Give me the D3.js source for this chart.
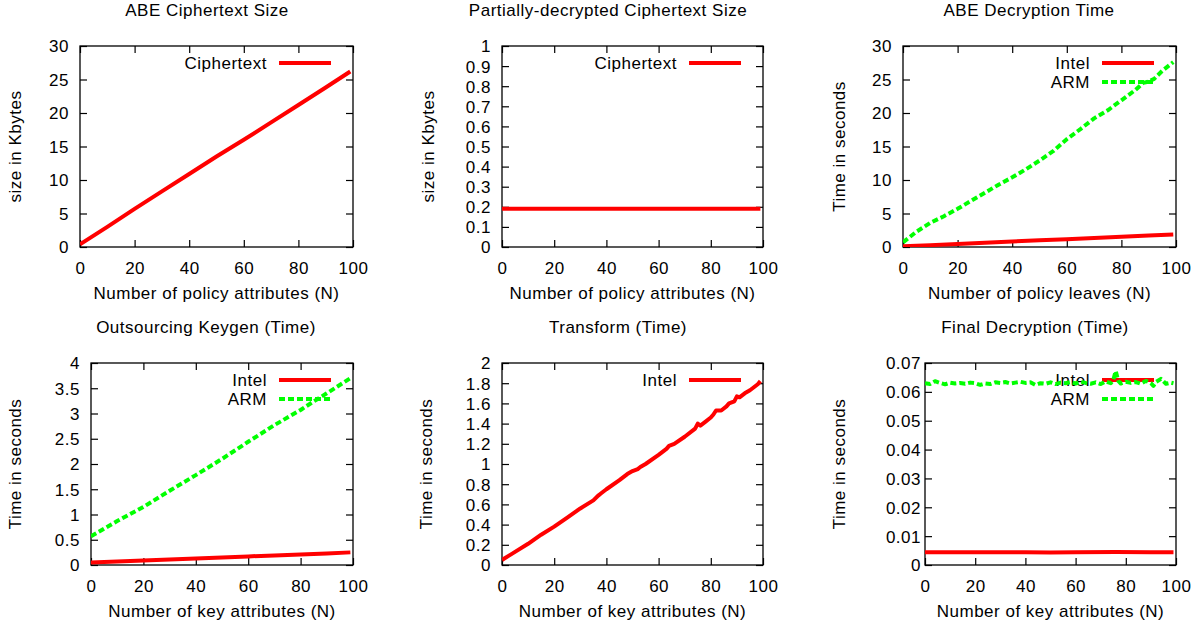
<!DOCTYPE html>
<html>
<head>
<meta charset="utf-8">
<script src="https://cdn.jsdelivr.net/npm/d3@7"></script>
<style>
  body { margin: 0; background: #fff; }
  svg { display: block; }
</style>
</head>
<body>
<div id="chart"></div>
<script>
// ---- data ----
const xTicks = [0, 20, 40, 60, 80, 100];

// ABE Ciphertext Size
const ctN = [0, 10, 20, 30, 40, 50, 60, 70, 80, 90, 99];
const ctSize = [0.4, 3.0, 5.7, 8.3, 10.9, 13.5, 16.0, 18.6, 21.2, 23.8, 26.2];
const ctTicks = [0, 5, 10, 15, 20, 25, 30];

// Partially-decrypted Ciphertext Size
const partialN = [0, 20, 40, 60, 80, 99];
const partialSize = [0.19, 0.19, 0.19, 0.19, 0.19, 0.19];
const partialTicks = [0, 0.1, 0.2, 0.3, 0.4, 0.5, 0.6, 0.7, 0.8, 0.9, 1];

// ABE Decryption Time
const decIntelN = [0, 10, 20, 30, 40, 50, 60, 70, 80, 90, 99];
const decIntel = [0.10, 0.28, 0.46, 0.64, 0.82, 1.0, 1.17, 1.35, 1.53, 1.71, 1.87];
const decArmN = [0, 5, 10, 15, 20, 25, 30, 35, 40, 45, 50, 55, 60, 65, 70, 75, 80, 85, 88, 90, 92, 95, 99];
const decArm = [0.7, 2.3, 3.6, 4.6, 5.7, 6.9, 8.1, 9.3, 10.4, 11.6, 12.9, 14.3, 16.1, 17.6, 19.2, 20.4, 21.9, 23.4, 24.5, 24.7, 25.1, 26.3, 27.6];
const decTicks = [0, 5, 10, 15, 20, 25, 30];

// Outsourcing Keygen (Time)
const keygenN = [0, 10, 20, 30, 40, 50, 60, 70, 80, 85, 90, 99];
const keygenIntel = [0.05, 0.07, 0.09, 0.11, 0.13, 0.15, 0.17, 0.19, 0.21, 0.22, 0.23, 0.25];
const keygenArm = [0.57, 0.87, 1.15, 1.47, 1.78, 2.10, 2.44, 2.77, 3.07, 3.24, 3.40, 3.70];
const keygenTicks = [0, 0.5, 1, 1.5, 2, 2.5, 3, 3.5, 4];

// Transform (Time)
const transformN = [0, 5, 10, 15, 20, 25, 30, 35, 37, 38, 40, 45, 48, 50, 52, 53, 55, 60, 63, 64, 66, 70, 74, 75, 76, 78, 80, 81, 82, 84, 86, 87, 88, 89, 90, 91, 93, 95, 97, 98, 99];
const transformIntel = [0.05, 0.13, 0.21, 0.30, 0.38, 0.47, 0.56, 0.64, 0.69, 0.71, 0.75, 0.84, 0.90, 0.93, 0.95, 0.97, 1.00, 1.09, 1.15, 1.18, 1.20, 1.27, 1.35, 1.40, 1.38, 1.42, 1.46, 1.49, 1.53, 1.53, 1.57, 1.60, 1.61, 1.62, 1.67, 1.66, 1.70, 1.73, 1.77, 1.79, 1.82];
const transformTicks = [0, 0.2, 0.4, 0.6, 0.8, 1, 1.2, 1.4, 1.6, 1.8, 2];

// Final Decryption (Time)
const finalIntelN = [0, 20, 40, 50, 60, 76, 90, 99];
const finalIntel = [0.0044, 0.0044, 0.0044, 0.0043, 0.0044, 0.0045, 0.0044, 0.0044];
const finalArmN = [0, 2, 4, 6, 8, 10, 12, 14, 16, 18, 20, 22, 24, 26, 28, 30, 32, 34, 36, 38, 40, 42, 44, 46, 48, 50, 52, 54, 56, 58, 60, 62, 64, 66, 68, 70, 72, 74, 75, 76, 77, 78, 80, 82, 84, 86, 88, 90, 91, 92, 94, 96, 98, 99];
const finalArm = [0.0630, 0.0627, 0.0637, 0.0631, 0.0626, 0.0632, 0.0629, 0.0631, 0.0628, 0.0632, 0.0630, 0.0624, 0.0629, 0.0627, 0.0633, 0.0631, 0.0634, 0.0629, 0.0632, 0.0635, 0.0631, 0.0633, 0.0624, 0.0630, 0.0628, 0.0633, 0.0627, 0.0632, 0.0630, 0.0634, 0.0629, 0.0635, 0.0631, 0.0628, 0.0633, 0.0627, 0.0636, 0.0630, 0.0641, 0.0672, 0.0638, 0.0629, 0.0635, 0.0631, 0.0634, 0.0628, 0.0638, 0.0630, 0.0621, 0.0634, 0.0645, 0.0628, 0.0632, 0.0630];
const finalTicks = [0, 0.01, 0.02, 0.03, 0.04, 0.05, 0.06, 0.07];

// ---- layout ----
const width = 1204, height = 628;
const FONT = "'Liberation Sans', Arial, sans-serif";
const RED = "#ff0000", GREEN = "#00ff00";

const panels = [
  { title: "ABE Ciphertext Size", tx: 207, ty: 16,
    box: [80, 353, 46, 247], yMax: 30, yTicks: ctTicks, gap: 11,
    ylabel: "size in Kbytes", lx: 21,
    xlabel: "Number of policy attributes (N)",
    series: [{ name: "Ciphertext", x: ctN, y: ctSize, color: RED }] },
  { title: "Partially-decrypted Ciphertext Size", tx: 608, ty: 16,
    box: [502, 763, 46, 247], yMax: 1, yTicks: partialTicks, gap: 11,
    ylabel: "size in Kbytes", lx: 434,
    xlabel: "Number of policy attributes (N)",
    series: [{ name: "Ciphertext", x: partialN, y: partialSize, color: RED }] },
  { title: "ABE Decryption Time", tx: 1029, ty: 16,
    box: [903, 1176, 46, 247], yMax: 30, yTicks: decTicks, gap: 11,
    ylabel: "Time in seconds", lx: 845,
    xlabel: "Number of policy leaves (N)",
    series: [{ name: "Intel", x: decIntelN, y: decIntel, color: RED },
             { name: "ARM", x: decArmN, y: decArm, color: GREEN, dash: true }] },
  { title: "Outsourcing Keygen (Time)", tx: 206, ty: 333,
    box: [91, 353, 363, 565], yMax: 4, yTicks: keygenTicks, gap: 11,
    ylabel: "Time in seconds", lx: 21,
    xlabel: "Number of key attributes (N)",
    series: [{ name: "Intel", x: keygenN, y: keygenIntel, color: RED },
             { name: "ARM", x: keygenN, y: keygenArm, color: GREEN, dash: true }] },
  { title: "Transform (Time)", tx: 618, ty: 333,
    box: [502, 763, 363, 565], yMax: 2, yTicks: transformTicks, gap: 11,
    ylabel: "Time in seconds", lx: 432,
    xlabel: "Number of key attributes (N)",
    series: [{ name: "Intel", x: transformN, y: transformIntel, color: RED }] },
  { title: "Final Decryption (Time)", tx: 1035, ty: 333,
    box: [925, 1176, 363, 565], yMax: 0.07, yTicks: finalTicks, gap: 4,
    ylabel: "Time in seconds", lx: 845,
    xlabel: "Number of key attributes (N)",
    series: [{ name: "Intel", x: finalIntelN, y: finalIntel, color: RED },
             { name: "ARM", x: finalArmN, y: finalArm, color: GREEN, dash: true }] }
];

const svg = d3.select("#chart")
  .append("svg")
  .attr("width", width)
  .attr("height", height);

function styleText(sel) {
  sel.selectAll("text")
    .attr("font-family", FONT)
    .attr("font-size", 17)
    .attr("letter-spacing", 0.5)
    .attr("fill", "#000");
}

function drawPanel(p) {
  const [x0, x1, y0, y1] = p.box;
  const x = d3.scaleLinear().domain([0, 100]).range([x0, x1]);
  const y = d3.scaleLinear().domain([0, p.yMax]).range([y1, y0]);
  const g = svg.append("g");
  const fmt = d3.format("~g");

  // title
  g.append("text")
    .attr("x", p.tx).attr("y", p.ty)
    .attr("text-anchor", "middle")
    .attr("font-family", "'DejaVu Sans', sans-serif")
    .attr("font-size", 15)
    .attr("letter-spacing", 0.8)
    .attr("fill", "#111")
    .text(p.title);

  // axes, ticks pointing inward on all four sides
  const bottom = g.append("g").attr("transform", `translate(0,${y1})`)
    .call(d3.axisBottom(x).tickValues(xTicks).tickFormat(fmt)
      .tickSizeInner(-7).tickSizeOuter(0).tickPadding(9));
  const left = g.append("g").attr("transform", `translate(${x0},0)`)
    .call(d3.axisLeft(y).tickValues(p.yTicks).tickFormat(fmt)
      .tickSizeInner(-7).tickSizeOuter(0).tickPadding(p.gap));
  const top = g.append("g").attr("transform", `translate(0,${y0})`)
    .call(d3.axisTop(x).tickValues(xTicks).tickFormat("")
      .tickSizeInner(-7).tickSizeOuter(0));
  const right = g.append("g").attr("transform", `translate(${x1},0)`)
    .call(d3.axisRight(y).tickValues(p.yTicks).tickFormat("")
      .tickSizeInner(-7).tickSizeOuter(0));

  [bottom, left, top, right].forEach(a => {
    a.select(".domain").remove();
    a.selectAll("line").attr("stroke", "#000").attr("stroke-width", 1.2);
    styleText(a);
  });
  bottom.selectAll("text").attr("dy", null).attr("y", 27);
  left.selectAll("text").attr("dy", "0.35em");

  g.append("rect")
    .attr("x", x0).attr("y", y0)
    .attr("width", x1 - x0).attr("height", y1 - y0)
    .attr("fill", "none")
    .attr("stroke", "#000")
    .attr("stroke-width", 1.3);

  // axis labels
  g.append("text")
    .attr("x", (x0 + x1) / 2).attr("y", y1 + 52)
    .attr("text-anchor", "middle")
    .text(p.xlabel);
  g.append("text")
    .attr("transform", `translate(${p.lx},${(y0 + y1) / 2}) rotate(-90)`)
    .attr("text-anchor", "middle")
    .text(p.ylabel);
  styleText(g);

  const clipId = "clip" + x0 + "_" + y0;
  g.append("clipPath").attr("id", clipId)
    .append("rect").attr("x", x0).attr("y", y0)
    .attr("width", x1 - x0).attr("height", y1 - y0);

  const line = d3.line().x(d => x(d[0])).y(d => y(d[1]));

  // legend sample then the curve, series by series (later curves on top)
  p.series.forEach((s, i) => {
    const ly = y0 + 17 + i * 19;
    g.append("text")
      .attr("x", x1 - 86).attr("y", ly).attr("dy", "0.35em")
      .attr("text-anchor", "end")
      .attr("font-family", FONT).attr("font-size", 17)
      .attr("letter-spacing", 0.5)
      .text(s.name);
    g.append("line")
      .attr("x1", x1 - 74).attr("x2", x1 - 22)
      .attr("y1", ly).attr("y2", ly)
      .attr("stroke", s.color).attr("stroke-width", 4)
      .attr("stroke-dasharray", s.dash ? "6,3" : null);

    const pts = s.x.map((n, k) => [n, s.y[k]]);
    g.append("path")
      .datum(pts)
      .attr("clip-path", `url(#${clipId})`)
      .attr("d", line)
      .attr("fill", "none")
      .attr("stroke", s.color)
      .attr("stroke-width", 4)
      .attr("stroke-linejoin", "round")
      .attr("stroke-dasharray", s.dash ? "6,3" : null);
  });
}

panels.forEach(drawPanel);
</script>
</body>
</html>
